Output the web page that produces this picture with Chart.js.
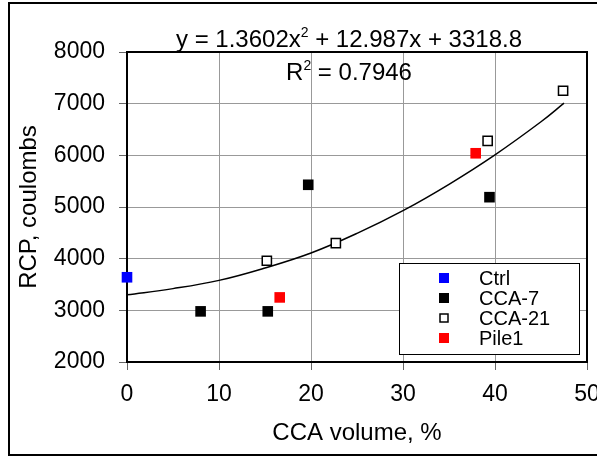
<!DOCTYPE html>
<html>
<head>
<meta charset="utf-8">
<script src="https://cdn.jsdelivr.net/npm/chart.js@4/dist/chart.umd.min.js"></script>
<style>
  body { margin: 0; background: #fff; }
  canvas { display: block; }
</style>
</head>
<body>
<canvas id="rcp-chart" width="597" height="457"></canvas>
<script>
// values
const ctrlX = [0];
const ctrlY = [3640];
const cca7X = [8, 15.3, 19.7, 39.4];
const cca7Y = [2980, 2980, 5430, 5190];
const cca21X = [15.2, 22.7, 39.2, 47.4];
const cca21Y = [3960, 4300, 6280, 7250];
const pile1X = [16.6, 37.9];
const pile1Y = [3250, 6040];
// trend line
const trendX = [0, 5, 10, 15, 20, 25, 30, 35, 40, 45, 47.5];
const trendY = [3300, 3420, 3580, 3820, 4110, 4490, 4930, 5440, 6010, 6650, 7010];
const seriesNames = ["Ctrl", "CCA-7", "CCA-21", "Pile1"];
const xTicks = [0, 10, 20, 30, 40, 50];
const yTicks = [2000, 3000, 4000, 5000, 6000, 7000, 8000];
const equationText = ["y = 1.3602x", "2", " + 12.987x + 3318.8"];
const r2Text = ["R", "2", " = 0.7946"];

const FONT = '"Liberation Sans", Arial, sans-serif';
Chart.defaults.color = "#000";
Chart.defaults.font.family = FONT;

const toPoints = (xs, ys) => xs.map((x, i) => ({ x: x, y: ys[i] }));

// text with a small raised "2"
function drawSup(ctx, parts, cx, baseline) {
  ctx.font = "24px " + FONT;
  const w1 = ctx.measureText(parts[0]).width;
  const w3 = ctx.measureText(parts[2]).width;
  ctx.font = "14px " + FONT;
  const w2 = ctx.measureText(parts[1]).width;
  let x = cx - (w1 + w2 + w3) / 2;
  ctx.textAlign = "left";
  ctx.textBaseline = "alphabetic";
  ctx.font = "24px " + FONT;
  ctx.fillText(parts[0], x, baseline);
  x += w1;
  ctx.font = "14px " + FONT;
  ctx.fillText(parts[1], x, baseline - 10);
  x += w2;
  ctx.font = "24px " + FONT;
  ctx.fillText(parts[2], x, baseline);
}

const decorations = {
  id: "decorations",
  beforeDraw(chart) {
    const ctx = chart.ctx;
    ctx.save();
    ctx.fillStyle = "#fff";
    ctx.fillRect(0, 0, chart.width, chart.height);
    ctx.strokeStyle = "#000";
    ctx.lineWidth = 2;
    ctx.strokeRect(9, 3, 620, 452);
    ctx.restore();
  },
  beforeDatasetsDraw(chart) {
    const { ctx, chartArea: a } = chart;
    ctx.save();
    ctx.strokeStyle = "#000";
    ctx.lineWidth = 2;
    ctx.strokeRect(a.left, a.top, a.right - a.left, a.bottom - a.top);
    ctx.restore();
  },
  afterDatasetsDraw(chart) {
    const ctx = chart.ctx;
    ctx.save();
    ctx.fillStyle = "#000";
    drawSup(ctx, equationText, 349, 47);
    drawSup(ctx, r2Text, 349, 80);

    // legend box
    const lx = 399, ly = 263, lw = 180, lh = 91;
    ctx.fillStyle = "#fff";
    ctx.fillRect(lx, ly, lw, lh);
    ctx.strokeStyle = "#000";
    ctx.lineWidth = 1;
    ctx.strokeRect(lx + 0.5, ly + 0.5, lw, lh);
    ctx.font = "20px " + FONT;
    ctx.textBaseline = "middle";
    ctx.textAlign = "left";
    seriesNames.forEach((name, i) => {
      const ds = chart.data.datasets[i];
      const y = 278 + i * 20;
      if (ds.backgroundColor === "#fff") {
        ctx.fillStyle = "#fff";
        ctx.fillRect(440, y - 4, 8, 8);
        ctx.lineWidth = 1.5;
        ctx.strokeStyle = "#000";
        ctx.strokeRect(440, y - 4, 8, 8);
      } else {
        ctx.fillStyle = ds.backgroundColor;
        ctx.fillRect(439, y - 5, 10, 10);
      }
      ctx.fillStyle = "#000";
      ctx.fillText(name, 479, y + 1);
    });
    ctx.restore();
  },
};

const markerSet = (label, xs, ys, fill, border, radius, bw) => ({
  label: label,
  data: toPoints(xs, ys),
  showLine: false,
  pointStyle: "rect",
  pointRadius: radius,
  pointHoverRadius: radius,
  backgroundColor: fill,
  borderColor: border,
  pointBorderWidth: bw,
  clip: false,
});

new Chart(document.getElementById("rcp-chart"), {
  type: "scatter",
  data: {
    datasets: [
      markerSet("Ctrl", ctrlX, ctrlY, "#0000ff", "#0000ff", 7.5, 0),
      markerSet("CCA-7", cca7X, cca7Y, "#000", "#000", 7.5, 0),
      markerSet("CCA-21", cca21X, cca21Y, "#fff", "#000", 6.5, 1.5),
      markerSet("Pile1", pile1X, pile1Y, "#ff0000", "#ff0000", 7.5, 0),
      {
        label: "Trend",
        data: toPoints(trendX, trendY),
        showLine: true,
        pointRadius: 0,
        borderColor: "#000",
        borderWidth: 1.5,
        tension: 0.4,
        fill: false,
      },
    ],
  },
  options: {
    responsive: false,
    animation: false,
    events: [],
    layout: { padding: { top: 52, right: 10, left: 0, bottom: 0 } },
    plugins: { legend: { display: false }, tooltip: { enabled: false } },
    scales: {
      x: {
        type: "linear",
        min: 0,
        max: 50,
        afterBuildTicks: (scale) => { scale.ticks = xTicks.map((v) => ({ value: v })); },
        afterFit: (scale) => { scale.height = 95; scale.paddingLeft = 0; scale.paddingRight = 0; },
        ticks: { font: { size: 23 }, padding: 11, maxRotation: 0, callback: (v) => String(v) },
        grid: { color: "#999", tickColor: "#666", tickLength: 8 },
        border: { display: false },
        title: { display: true, text: "CCA volume, %", font: { size: 24 }, padding: { top: 0, bottom: 9 } },
      },
      y: {
        type: "linear",
        min: 2000,
        max: 8000,
        afterBuildTicks: (scale) => { scale.ticks = yTicks.map((v) => ({ value: v })); },
        afterFit: (scale) => { scale.width = 127; scale.paddingTop = 0; scale.paddingBottom = 0; },
        ticks: { font: { size: 23 }, padding: 14, callback: (v) => String(v) },
        grid: { color: "#999", tickColor: "#666", tickLength: 8 },
        border: { display: false },
        title: { display: true, text: "RCP, coulombs", font: { size: 24 }, padding: { top: 15, bottom: 0 } },
      },
    },
  },
  plugins: [decorations],
});
</script>
</body>
</html>
